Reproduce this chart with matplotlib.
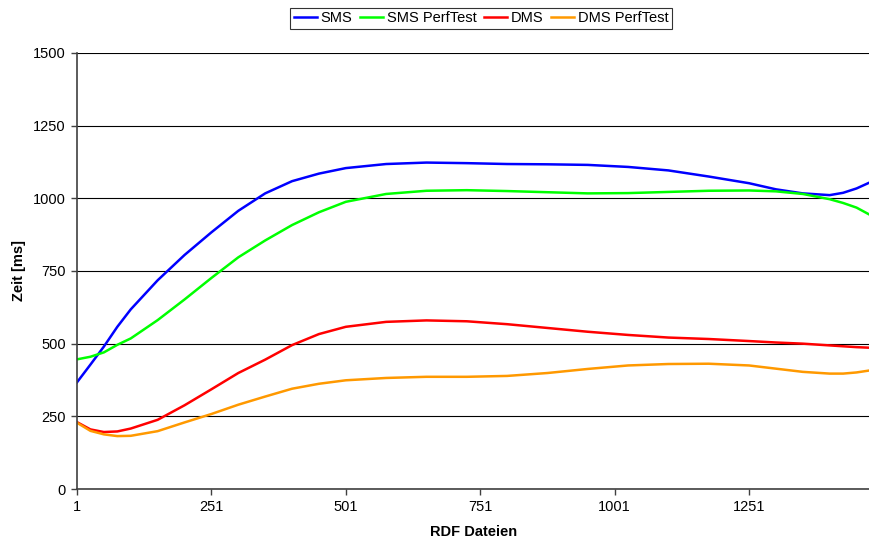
import matplotlib
matplotlib.use("Agg")
import matplotlib.pyplot as plt

plt.rcParams['font.family'] = ['Liberation Sans', 'DejaVu Sans']

# Anzahl RDF Dateien
dateien = [1, 26, 51, 76, 101, 151, 201, 251, 301, 351, 401, 451, 501, 576, 651,
           726, 801, 876, 951, 1026, 1101, 1176, 1251, 1301, 1351, 1401, 1426, 1451, 1476]

# Zeiten in ms
sms = [367, 428, 490, 558, 618, 718, 805, 883, 957, 1017, 1059, 1085, 1104, 1118, 1123,
       1121, 1118, 1117, 1115, 1108, 1096, 1075, 1052, 1031, 1017, 1011, 1019, 1034, 1055]
sms_perf = [446, 455, 470, 496, 518, 581, 652, 726, 797, 855, 908, 952, 988, 1015, 1026,
            1028, 1025, 1021, 1017, 1018, 1022, 1026, 1027, 1024, 1015, 997, 984, 968, 943]
dms = [230, 205, 196, 198, 208, 238, 288, 343, 399, 445, 495, 533, 558, 575, 580,
       577, 567, 554, 541, 530, 521, 516, 509, 504, 500, 494, 491, 488, 486]
dms_perf = [228, 200, 188, 182, 183, 199, 229, 258, 290, 318, 345, 362, 374, 382, 386,
            386, 389, 399, 413, 425, 430, 431, 425, 414, 403, 397, 397, 401, 408]

fig = plt.figure(figsize=(8.7, 5.44), dpi=100)
ax = fig.add_axes([0.0885, 0.1011, 0.9115, 0.8015])

ax.plot(dateien, sms, color='#0000FF', lw=1.8, label='SMS')
ax.plot(dateien, sms_perf, color='#00FF00', lw=1.8, label='SMS PerfTest')
ax.plot(dateien, dms, color='#FF0000', lw=1.8, label='DMS')
ax.plot(dateien, dms_perf, color='#FF9900', lw=1.8, label='DMS PerfTest')

ax.set_xlim(1, 1476)
ax.set_ylim(0, 1500)
ax.set_xticks([1, 251, 501, 751, 1001, 1251])
ax.set_yticks(range(0, 1501, 250))
ax.yaxis.grid(True, color='black', lw=0.8)
ax.set_axisbelow(True)

for s in ['top', 'right']:
    ax.spines[s].set_visible(False)
for s in ['left', 'bottom']:
    ax.spines[s].set_color('#404040')
    ax.spines[s].set_linewidth(1.2)
ax.tick_params(direction='out', length=4, width=1, color='#404040', labelsize=10.5, pad=4)

ax.set_xlabel('RDF Dateien', fontsize=10.5, fontweight='bold', labelpad=8)
ax.set_ylabel('Zeit [ms]', fontsize=10.5, fontweight='bold', labelpad=5)

leg = fig.legend(loc='center', bbox_to_anchor=(0.553, 0.966), ncol=4, fontsize=10.5,
                 frameon=True, fancybox=False, edgecolor='black', handlelength=1.6,
                 handletextpad=0.25, columnspacing=0.5, borderpad=0.25)
leg.get_frame().set_linewidth(0.8)

fig.savefig('out.png', dpi=100)
